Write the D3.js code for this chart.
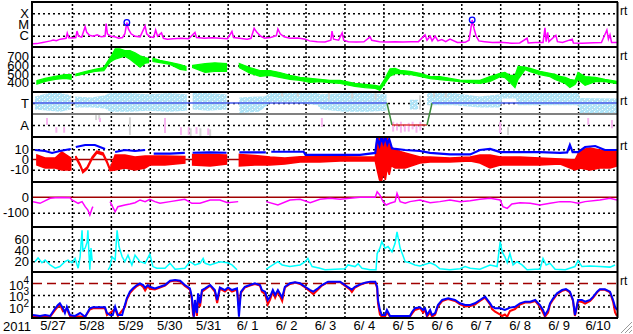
<!DOCTYPE html>
<html>
<head>
<meta charset="utf-8">
<script src="https://cdn.jsdelivr.net/npm/d3@7"></script>
<style>
  body { margin: 0; background: #fff; }
  svg { display: block; }
</style>
</head>
<body>
<div id="chart"></div>
<script>
// time is in days from 2011-05-27 00:00 UT

const dayLabels = ["5/27","5/28","5/29","5/30","5/31","6/ 1","6/ 2","6/ 3","6/ 4","6/ 5","6/ 6","6/ 7","6/ 8","6/ 9","6/10"];

// GOES X-ray flux (W/m2)
const xrayTicks = [1e-4, 1e-5, 1e-6];
const xrayTickLabels = ["X", "M", "C"];
const xray = [
  [0.00,1.9e-7],[0.10,2.0e-7],[0.25,2.5e-7],[0.36,3.0e-7],[0.45,3.5e-7],[0.52,4.2e-7],[0.60,3.6e-7],
  [0.70,5.0e-7],[0.85,6.0e-7],[0.88,1.75e-6],[0.92,6.5e-7],[1.00,6.3e-7],[1.10,7e-7],[1.13,2.6e-6],
  [1.17,9e-7],[1.25,7.5e-7],[1.34,6.4e-6],[1.38,2.0e-6],[1.45,1.1e-6],[1.55,9e-7],[1.65,1.2e-6],
  [1.75,8e-7],[1.85,9e-7],[1.88,1.2e-5],[1.91,1.5e-6],[2.00,9e-7],[2.10,8e-7],[2.20,6e-7],[2.30,7e-7],
  [2.36,1.5e-6],[2.41,1.5e-5],[2.45,4e-6],[2.52,1.5e-6],[2.62,9e-7],[2.75,8e-7],[2.88,7.4e-6],
  [2.92,1.5e-6],[3.00,8e-7],[3.10,7e-7],[3.15,3.2e-6],[3.20,9e-7],[3.30,1.8e-6],[3.35,6e-7],
  [3.45,5e-7],[3.60,5.5e-7],[3.80,6e-7],[4.00,5.5e-7],[4.16,2.0e-6],[4.20,7e-7],[4.40,6e-7],
  [4.60,6.5e-7],[4.80,6e-7],[5.00,5.5e-7],[5.11,2.4e-6],[5.15,7e-7],[5.30,6e-7],[5.50,5e-7],
  [5.60,6e-7],[5.68,4.6e-6],[5.75,2.0e-6],[5.85,9e-7],[5.95,6e-7],[6.10,7e-7],[6.25,1.0e-6],
  [6.29,4e-6],[6.35,1.5e-6],[6.45,8e-7],[6.60,6e-7],[6.80,6.3e-7],[7.00,5e-7],[7.10,3.5e-7],
  [7.30,3e-7],[7.50,2.8e-7],[7.65,4e-7],[7.68,2.6e-6],[7.72,5e-7],[7.85,4e-7],[7.94,1.8e-6],
  [7.98,4e-7],[8.10,3e-7],[8.30,2.8e-7],[8.50,2.9e-7],[8.66,8e-7],[8.70,4e-7],[8.90,3e-7],
  [9.10,2.8e-7],[9.30,3e-7],[9.50,2.8e-7],[9.70,3e-7],[9.90,3e-7],[10.07,1.2e-6],[10.12,4e-7],
  [10.20,9e-7],[10.25,3.5e-7],[10.33,9e-7],[10.40,3.5e-7],[10.50,4.5e-7],[10.60,3e-7],[10.71,5e-7],
  [10.90,2.5e-7],[11.10,2.6e-7],[11.20,4e-7],[11.28,2.5e-5],[11.33,4e-6],[11.38,1e-6],[11.45,3.5e-7],
  [11.60,3e-7],[11.80,2.5e-7],[12.00,2.6e-7],[12.30,2.2e-7],[12.50,2.3e-7],[12.69,6e-7],[12.72,2.3e-7],
  [12.90,2.5e-7],[13.10,2.5e-7],[13.15,5e-6],[13.18,3e-7],[13.22,2e-6],[13.25,3e-7],[13.43,1.1e-6],
  [13.47,3e-7],[13.60,2.5e-7],[13.85,5e-7],[13.88,2.3e-7],[14.10,2.2e-7],[14.40,2.4e-7],[14.60,2.5e-7],
  [14.74,3.2e-6],[14.78,5e-7],[14.82,1.2e-6],[14.86,2.5e-7],[15.00,2.5e-7]
];
const flares = [[2.41,1.5e-5],[11.28,2.5e-5]];

// solar wind speed (km/s): [t, low, high]
const speedTicks = [400, 500, 600, 700];
const speed = [
  [0.10,385,425],[0.31,415,450],[0.57,440,475],[0.82,450,495],[0.98,440,495],[1.04,null,null],
  [1.10,480,500],[1.34,505,530],[1.59,530,555],[1.82,540,575],[1.93,610,655],[2.00,645,700],
  [2.11,670,790],[2.23,690,790],[2.36,705,770],[2.49,670,770],[2.62,625,745],[2.75,580,710],
  [2.88,625,690],[2.97,630,680],[3.02,null,null],[3.08,645,680],[3.26,632,658],[3.52,610,635],
  [3.78,555,610],[3.93,545,588],[4.00,null,null],[4.10,575,600],[4.42,520,620],[4.67,530,630],
  [4.97,530,620],[5.10,null,null],[5.30,575,622],[5.57,510,575],[5.83,475,540],[6.09,485,540],
  [6.34,462,518],[6.60,440,485],[6.86,428,462],[7.12,405,450],[7.37,413,440],[7.63,402,428],
  [7.89,392,428],[8.27,358,395],[8.53,345,382],[8.79,335,370],[8.91,315,358],[9.04,392,450],
  [9.17,475,560],[9.30,505,565],[9.43,505,543],[9.68,495,532],[9.94,472,508],[10.20,448,475],
  [10.45,437,472],[10.71,425,452],[10.97,412,430],[11.23,403,428],[11.48,392,428],[11.74,415,472],
  [12.00,470,510],[12.12,460,520],[12.25,405,485],[12.38,345,485],[12.46,440,588],[12.64,550,580],
  [12.77,528,566],[13.02,494,532],[13.28,471,509],[13.41,438,496],[13.54,415,473],[13.67,392,462],
  [13.79,345,440],[13.92,380,428],[14.00,438,520],[14.18,370,472],[14.44,413,463],[14.69,413,440],
  [15.00,390,418]
];

// IMF sector: T = 1, A = -1
const sectorTicks = [1, -1];
const sectorTickLabels = ["T", "A"];
const sectorLine = [[0,1],[9.09,1],[9.22,-1],[10.12,-1],[10.25,1],[15,1]];
const sectorBlue = [
  [0.05,0.4,1.6],[0.40,0.3,1.9],[0.70,0.2,1.9],[0.97,0.4,1.7],[1.03,null,null],
  [1.08,0.6,1.6],[1.50,0.6,1.5],[1.85,0.5,1.7],[1.98,0.2,1.9],[2.50,0.2,1.9],[2.95,0.3,1.8],
  [3.50,0.2,1.9],[3.95,0.3,1.8],[4.02,null,null],[4.10,0.4,1.9],[4.50,0.3,1.9],[4.97,0.4,1.8],
  [5.10,null,null],[5.30,0.1,1.5],[5.80,0.2,1.6],[5.95,0.6,1.6],[6.10,1.1,1.9],[6.70,1.1,1.9],
  [7.30,0.8,1.9],[7.40,0.4,1.8],[8.00,0.2,1.9],[8.60,0.2,1.9],[9.08,0.3,1.8],[9.12,null,null],
  [9.68,0.4,1.3],[9.89,0.4,1.3],[9.95,null,null],[10.12,0.8,1.9],[10.80,0.8,1.9],[11.48,0.6,1.6],
  [12.00,0.6,1.8],[12.05,1.4,2.0],[12.40,1.4,2.0],[12.45,0.8,2.0],[14.00,0.8,2.0],[14.05,0.1,1.45],
  [15.00,0.1,1.4]
];
const sectorPink = [
  [0.36,-0.36,-1.0],[0.60,-1.2,-1.7],[0.80,-1.2,-1.7],[1.72,-0.36,-0.73],[3.39,-0.36,-1.73],
  [3.80,-1.2,-1.9],[4.00,-1.2,-1.9],[4.20,-1.2,-1.8],[4.50,-1.3,-1.9],[7.42,-0.36,-1.18],
  [9.25,-0.7,-1.6],[9.35,-0.8,-1.5],[9.45,-0.7,-1.7],[9.55,-0.9,-1.6],[9.65,-0.8,-1.6],
  [9.75,-0.7,-1.4],[9.85,-0.9,-1.7],[9.95,-0.7,-1.5],[12.00,-0.73,-1.73],[14.26,-0.36,-1.0],
  [14.87,-0.55,-1.3]
];
const sectorGray = [
  [1.62,-0.1,-0.55],[1.70,-0.1,-0.5],[2.49,-0.3,-1.9],[4.05,-1.3,-2.0],[4.30,-1.3,-2.0],
  [4.55,-1.4,-2.0],[6.40,1.6,2.0],[6.80,1.6,2.0],[7.60,1.3,2.0],[8.20,1.4,2.0],[8.80,1.3,2.0],
  [9.94,0.4,1.7],[10.30,1.5,2.0],[10.60,1.5,2.0],[12.20,-1.2,-1.9]
];

// IMF Bt (blue) and Bz range (red), nT
const bTicks = [10, 0, -10];
const bt = [
  [0.05,9.3],[0.31,8.3],[0.49,6.4],[0.69,8.3],[0.97,10.3],[1.03,null],[1.10,12.2],[1.34,14.2],
  [1.59,14.2],[1.85,10.3],[2.00,null],[2.11,7.3],[2.36,9.3],[2.62,8.3],[2.88,9.3],[3.00,null],
  [3.10,5.8],[3.52,5.8],[3.90,6.4],[3.98,null],[4.10,6.6],[4.55,7.0],[4.97,6.6],[5.10,null],
  [5.30,7.0],[5.70,7.0],[5.98,7.0],[6.05,null],[6.12,7.6],[6.60,7.6],[6.95,7.6],[7.00,4.6],
  [7.37,4.6],[7.89,4.6],[8.40,4.6],[8.79,6.4],[8.84,21],[8.90,14],[8.95,22],[9.00,16],[9.05,22],
  [9.10,15],[9.15,20],[9.22,11],[9.30,10.3],[9.56,9.3],[9.94,8.3],[10.20,6.4],[10.71,5.0],
  [11.23,5.0],[11.48,9.3],[11.74,10.3],[12.00,7.3],[12.51,7.3],[13.02,7.3],[13.54,6.4],[13.72,7.0],
  [13.79,14.2],[13.86,7.3],[14.00,7.3],[14.18,12.2],[14.44,13.2],[14.69,9.3],[15.00,9.3]
];
const bz = [
  [0.10,-5.4,4.4],[0.31,-8.3,1.5],[0.57,-8.3,1.5],[0.74,-10.3,7.3],[0.97,-10.3,1.5],[1.03,null,null],
  [1.10,1.5,3.4],[1.21,-6.4,-4.4],[1.28,-13,-11],[1.39,-9.3,-7.3],[1.52,0.5,2.5],[1.64,6.4,8.3],
  [1.80,4.4,6.4],[1.90,-3.4,-1.5],[1.98,-11,-9],[2.11,-10.3,4.4],[2.36,-8.3,4.4],[2.62,-10.3,2.4],
  [2.88,-8.3,3.4],[3.00,-5.4,3.4],[3.39,-5.4,3.4],[3.90,-3.4,3.0],[3.98,null,null],[4.10,-5.4,5.0],
  [4.55,-6.4,5.0],[4.97,-4.4,4.4],[5.10,null,null],[5.30,-6.4,5.0],[5.70,-5.4,4.0],[6.09,-5.4,2.4],
  [6.47,-4.4,1.5],[6.86,-2.4,2.8],[7.37,-2.4,2.8],[7.89,-1.5,2.8],[8.40,-1.5,2.4],[8.79,-1.5,2.4],
  [8.84,-10,22],[8.90,-20,22],[8.95,-22,18],[9.00,-12,22],[9.05,-20,20],[9.10,-8,22],[9.15,-15,15],
  [9.20,-6,12],[9.30,-8.3,9.3],[9.56,-8.3,6.4],[9.94,-3.4,2.4],[10.20,-2.4,2.4],[10.71,-2.4,1.5],
  [11.23,-1.5,2.4],[11.48,-3.4,4.4],[11.74,-8.3,4.4],[12.00,-5.4,2.4],[12.51,-5.4,2.4],
  [13.02,-5.4,1.5],[13.54,-4.4,0.5],[13.92,-10.3,-0.5],[14.05,-8.3,9.3],[14.31,-10.3,11.2],
  [14.56,-8.3,9.3],[14.82,-8.3,9.3],[15.00,-6.4,7.3]
];

// Dst (nT)
const dstTicks = [0, -100];
const dst = [
  [0.00,-28],[0.18,-39],[0.44,-6],[0.57,-2],[0.74,-1],[0.95,-3],[1.00,-17],[1.16,-39],[1.26,-28],
  [1.34,-61],[1.41,-83],[1.46,-115],[1.52,-70],[1.54,-61],[1.60,null],[1.98,-28],[2.11,-94],
  [2.18,-61],[2.36,-50],[2.49,-43],[2.62,-35],[2.75,-17],[2.88,-28],[3.00,-13],[3.13,-28],
  [3.26,-39],[3.52,-28],[3.78,-17],[3.90,-13],[4.08,-39],[4.29,-39],[4.55,-17],[4.80,-17],
  [5.00,-35],[5.27,-28],[5.35,null],[5.99,-28],[6.29,-50],[6.60,-17],[6.86,-13],[7.12,-35],
  [7.37,-13],[7.63,-6],[7.89,-13],[8.14,-6],[8.40,0],[8.79,0],[8.84,37],[8.91,15],[8.99,-28],
  [9.07,-50],[9.17,-39],[9.30,-28],[9.35,26],[9.43,-28],[9.56,-39],[9.68,-28],[9.94,-17],
  [10.20,-35],[10.45,-28],[10.71,-17],[10.97,-28],[11.23,-22],[11.48,-13],[11.74,-6],[12.00,-17],
  [12.07,-61],[12.18,-72],[12.30,-43],[12.51,-35],[12.77,-39],[13.02,-50],[13.28,-39],[13.54,-28],
  [13.79,-28],[14.00,-39],[14.18,-28],[14.56,-17],[14.82,-6],[15.00,-17]
];

// solar wind density (/cc)
const densTicks = [20, 40, 60];
const density = [
  [0.05,19],[0.13,26],[0.23,17],[0.31,22],[0.44,13],[0.57,7],[0.69,10],[0.82,19],[0.90,22],
  [1.00,17],[1.08,25],[1.16,7],[1.21,28],[1.26,77],[1.28,40],[1.34,44],[1.39,55],[1.41,77],
  [1.44,30],[1.46,4],[1.49,44],[1.52,20],[1.58,null],[1.93,4],[1.98,10],[2.03,28],[2.11,22],
  [2.16,77],[2.21,47],[2.29,28],[2.36,19],[2.44,31],[2.54,13],[2.62,31],[2.75,19],[2.88,16],
  [3.00,33],[3.08,10],[3.18,7],[3.39,7],[3.52,16],[3.65,5],[3.90,7],[4.03,19],[4.16,13],
  [4.29,16],[4.37,25],[4.42,16],[4.55,13],[4.80,19],[5.00,17],[5.11,13],[5.24,4],[5.50,null],
  [5.99,5],[6.09,10],[6.29,19],[6.40,13],[6.60,10],[6.86,13],[6.99,19],[7.06,25],[7.17,10],
  [7.37,7],[7.50,4],[7.76,5],[8.01,6],[8.09,13],[8.27,10],[8.35,15],[8.45,7],[8.66,4],[8.81,4],
  [8.84,34],[8.91,44],[8.96,56],[9.04,44],[9.12,47],[9.22,37],[9.30,53],[9.35,74],[9.43,44],
  [9.50,31],[9.56,19],[9.68,17],[9.81,13],[9.94,11],[10.20,17],[10.33,13],[10.45,6],[10.71,4],
  [10.97,6],[11.10,10],[11.23,7],[11.48,5],[11.74,13],[11.92,10],[12.00,56],[12.05,37],[12.12,28],
  [12.18,17],[12.25,34],[12.33,13],[12.43,19],[12.56,13],[12.69,4],[12.90,5],[13.02,5],[13.10,25],
  [13.18,13],[13.28,16],[13.41,5],[13.67,4],[13.92,10],[14.00,21],[14.10,10],[14.31,11],
  [14.56,10],[14.82,9],[14.95,13]
];

// GEO electron flux (two satellites)
const elecTicks = [1e4, 1e3, 1e2];
const elecBlue = [
  [0.00,18],[0.18,15],[0.31,18],[0.44,15],[0.57,70],[0.64,135],[0.69,190],[0.77,70],[0.82,27],
  [0.87,95],[0.95,18],[1.08,15],[1.21,27],[1.34,13],[1.46,70],[1.54,85],[1.72,85],[1.85,85],
  [1.90,27],[1.98,18],[2.05,18],[2.11,95],[2.18,18],[2.29,18],[2.36,135],[2.41,515],[2.49,1950],
  [2.57,3800],[2.67,7400],[2.75,10400],[2.83,7400],[2.88,4300],[2.95,7400],[3.00,5200],[3.13,3800],
  [3.26,5200],[3.39,7400],[3.52,17500],[3.65,20000],[3.78,17500],[3.90,7400],[4.03,3800],[4.08,710],
  [4.11,50],[4.13,13],[4.16,370],[4.21,27],[4.24,1400],[4.29,190],[4.34,2700],[4.42,3800],[4.55,7400],
  [4.67,2700],[4.73,370],[4.80,4500],[4.93,2700],[5.01,4500],[5.11,2700],[5.24,3800],[5.29,13],
  [5.34,1900],[5.44,5200],[5.57,7400],[5.70,10400],[5.83,7400],[5.88,2700],[5.96,1950],[6.03,370],
  [6.09,710],[6.16,2700],[6.22,1000],[6.29,2700],[6.40,600],[6.47,5200],[6.60,10400],[6.73,13000],
  [6.86,10400],[6.99,5200],[7.12,2700],[7.20,1950],[7.32,3800],[7.42,7400],[7.58,14500],[7.76,14500],
  [7.89,14500],[8.01,7400],[8.14,3800],[8.19,3000],[8.27,5200],[8.40,8500],[8.53,11800],[8.66,14500],
  [8.79,14500],[8.84,5200],[8.86,370],[8.91,50],[8.96,18],[9.04,18],[9.09,50],[9.17,15],[9.43,15],
  [9.68,15],[9.74,35],[9.81,70],[9.94,85],[10.02,50],[10.07,70],[10.12,18],[10.20,50],[10.25,18],
  [10.33,27],[10.40,135],[10.51,370],[10.66,515],[10.84,370],[10.97,190],[11.10,135],[11.23,135],
  [11.35,190],[11.48,370],[11.61,710],[11.74,190],[11.79,100],[11.87,70],[12.00,70],[12.12,50],
  [12.25,80],[12.38,95],[12.51,190],[12.64,265],[12.77,265],[12.90,370],[13.02,135],[13.10,50],
  [13.15,18],[13.23,50],[13.28,190],[13.36,515],[13.46,1400],[13.59,2700],[13.69,3300],[13.79,2000],
  [13.87,370],[13.92,18],[14.00,370],[14.10,370],[14.18,265],[14.31,370],[14.39,710],[14.49,1950],
  [14.56,3150],[14.69,3150],[14.82,1950],[14.90,370],[14.95,95],[15.00,50]
];
const elecRed = [
  [0.00,15],[0.44,13],[0.57,50],[0.69,150],[0.77,40],[0.87,60],[0.95,15],[1.34,13],[1.46,55],
  [1.54,70],[1.85,70],[1.90,18],[2.11,60],[2.18,15],[2.36,90],[2.41,400],[2.49,1500],[2.57,3000],
  [2.67,6000],[2.75,8500],[2.83,5000],[2.88,2500],[2.95,6000],[3.00,3500],[3.13,3000],[3.26,4500],
  [3.39,6500],[3.52,15000],[3.65,18000],[3.78,15000],[3.90,6000],[4.03,3000],[4.08,400],[4.11,20],
  [4.13,13],[4.16,200],[4.21,15],[4.24,800],[4.29,100],[4.34,2000],[4.42,3000],[4.55,6500],
  [4.67,2000],[4.73,200],[4.80,3500],[4.93,2000],[5.01,3500],[5.11,2000],[5.24,3000],[5.29,100],
  [5.34,1500],[5.44,4500],[5.57,6500],[5.70,9000],[5.83,6500],[5.88,2000],[5.96,1200],[6.03,150],
  [6.09,400],[6.16,2000],[6.22,600],[6.29,2000],[6.40,300],[6.47,4500],[6.60,9000],[6.73,12000],
  [6.86,9000],[6.99,4500],[7.12,2000],[7.20,1200],[7.32,3000],[7.42,6500],[7.58,13000],[7.89,13000],
  [8.01,6500],[8.14,3000],[8.19,1800],[8.27,4500],[8.40,7500],[8.53,11000],[8.66,13000],[8.79,13000],
  [8.84,4000],[8.86,200],[8.91,20],[8.96,13],[9.04,13],[9.09,30],[9.17,13],[9.68,13],[9.74,25],
  [9.81,50],[9.94,70],[10.02,30],[10.07,50],[10.12,13],[10.20,30],[10.25,13],[10.33,20],[10.40,100],
  [10.51,300],[10.66,450],[10.84,300],[10.97,150],[11.10,100],[11.23,110],[11.35,150],[11.48,300],
  [11.61,600],[11.74,150],[11.79,60],[11.87,35],[12.00,20],[12.05,15],[12.12,20],[12.18,13],
  [12.25,40],[12.38,60],[12.51,150],[12.64,220],[12.77,220],[12.90,300],[13.02,100],[13.10,30],
  [13.15,13],[13.23,30],[13.28,150],[13.36,400],[13.46,1200],[13.59,2300],[13.69,2800],[13.79,1700],
  [13.87,300],[13.92,15],[14.00,300],[14.10,250],[14.18,180],[14.31,300],[14.39,600],[14.49,1700],
  [14.56,2800],[14.69,2800],[14.82,1700],[14.90,250],[14.95,30],[15.00,15]
];

const rtPanels = [0, 1, 2, 3, 6];

// ---- layout
const W = 633, H = 334;
const L = 33, R = 617;
const bounds = [2, 47, 92, 137, 182, 227, 272, 318];
const FONT = "'Liberation Sans', Arial, Helvetica, sans-serif";
const FS = 13;

const svg = d3.select("#chart").append("svg")
  .attr("width", W).attr("height", H)
  .style("background", "#fff");

const x = d3.scaleLinear().domain([0, 15]).range([L, R]);

const yX = d3.scaleLog().domain([1e-7, 1e-3]).range([47, 2]);
const yV = d3.scaleLinear().domain([300, 800]).range([91.5, 48]);
const yS = d3.scaleLinear().domain([-2.09, 2]).range([137, 92]);
const yB = d3.scaleLinear().domain([-22, 22]).range([182, 137]);
const yD = d3.scaleLinear().domain([-200, 100]).range([228, 182]);
const yN = d3.scaleLinear().domain([0, 83]).range([272, 227]);
const yE = d3.scaleLog().domain([10, 1e5]).range([318, 272]);

// clip paths, one per panel
const defs = svg.append("defs");
for (let i = 0; i < 7; i++) {
  defs.append("clipPath").attr("id", "clip" + i)
    .append("rect")
    .attr("x", L).attr("y", bounds[i])
    .attr("width", R - L).attr("height", bounds[i + 1] - bounds[i]);
}
const layer = i => svg.append("g").attr("clip-path", `url(#clip${i})`);

// speckled fill for the scattered sector samples
const speck = defs.append("pattern").attr("id", "speck")
  .attr("patternUnits", "userSpaceOnUse").attr("width", 5).attr("height", 4);
speck.append("rect").attr("width", 5).attr("height", 4).attr("fill", "#aee4f8");
speck.append("rect").attr("x", 2).attr("y", 1).attr("width", 1).attr("height", 1).attr("fill", "#ffffff");
speck.append("rect").attr("x", 4).attr("y", 3).attr("width", 1).attr("height", 1).attr("fill", "#ffffff");
speck.append("rect").attr("x", 0).attr("y", 2).attr("width", 1).attr("height", 1).attr("fill", "#d8eef6");
speck.append("rect").attr("x", 3).attr("y", 0).attr("width", 1).attr("height", 1).attr("fill", "#d0d0d0");

// horizontal dotted grid
function hgrid(scale, vals) {
  svg.append("g")
    .attr("transform", `translate(${L},0)`)
    .call(d3.axisLeft(scale).tickValues(vals).tickSize(-(R - L)).tickFormat(""))
    .call(g => g.select(".domain").remove())
    .selectAll("line")
    .attr("stroke", "#000").attr("stroke-width", 1.5).attr("stroke-dasharray", "2,3");
}

// left tick labels
function labels(scale, vals, fmt) {
  return svg.append("g")
    .attr("transform", "translate(29,0)")
    .call(d3.axisLeft(scale).tickValues(vals).tickFormat(fmt).tickSize(0).tickPadding(0))
    .call(g => g.select(".domain").remove())
    .attr("font-family", FONT).attr("font-size", FS)
    .call(g => g.selectAll("text").attr("fill", "#000"));
}

// vertical day grid
svg.append("g")
  .attr("transform", `translate(0,${bounds[7]})`)
  .call(d3.axisBottom(x).tickValues(d3.range(1, 15)).tickSize(-(bounds[7] - bounds[0])).tickFormat(""))
  .call(g => g.select(".domain").remove())
  .selectAll("line")
  .attr("stroke", "#000").attr("stroke-width", 1.5).attr("stroke-dasharray", "2,2");

// day labels
svg.append("g")
  .attr("transform", `translate(0,${bounds[7]})`)
  .call(d3.axisBottom(x).tickValues(d3.range(0.5, 15, 1)).tickFormat((d, i) => dayLabels[i]).tickSize(0).tickPadding(3))
  .call(g => g.select(".domain").remove())
  .attr("font-family", FONT).attr("font-size", FS)
  .call(g => g.selectAll("text").attr("fill", "#000").style("white-space", "pre"));

svg.append("text").attr("x", 3).attr("y", 331)
  .attr("font-family", FONT).attr("font-size", FS).text("2011");

// ---- panel 1 : X-ray
hgrid(yX, xrayTicks);
labels(yX, xrayTicks, (d, i) => xrayTickLabels[i]);
layer(0).append("path")
  .datum(xray)
  .attr("fill", "none").attr("stroke", "#ff00ff").attr("stroke-width", 1.5)
  .attr("d", d3.line().x(d => x(d[0])).y(d => yX(d[1])));
svg.append("g").selectAll("circle").data(flares).join("circle")
  .attr("cx", d => x(d[0])).attr("cy", d => yX(d[1])).attr("r", 2.8)
  .attr("fill", "none").attr("stroke", "#0000ff").attr("stroke-width", 1.3);

// ---- panel 2 : speed
hgrid(yV, speedTicks);
labels(yV, speedTicks, d => d);
layer(1).append("path")
  .datum(speed)
  .attr("fill", "#00ff00").attr("stroke", "#00ff00").attr("stroke-width", 1.2)
  .attr("d", d3.area().defined(d => d[1] != null)
    .x(d => x(d[0])).y0(d => yV(d[1])).y1(d => yV(d[2])));

// ---- panel 3 : sector
hgrid(yS, sectorTicks);
labels(yS, sectorTicks, (d, i) => sectorTickLabels[i]);
const g3 = layer(2);
g3.append("path")
  .datum(sectorBlue)
  .attr("fill", "url(#speck)").attr("stroke", "none")
  .attr("d", d3.area().defined(d => d[1] != null)
    .x(d => x(d[0])).y0(d => yS(d[1])).y1(d => yS(d[2])));
g3.selectAll("line.gray").data(sectorGray).join("line").attr("class", "gray")
  .attr("x1", d => x(d[0])).attr("x2", d => x(d[0]))
  .attr("y1", d => yS(d[1])).attr("y2", d => yS(d[2]))
  .attr("stroke", "#d4d4d4").attr("stroke-width", 2);
g3.selectAll("line.pink").data(sectorPink).join("line").attr("class", "pink")
  .attr("x1", d => x(d[0])).attr("x2", d => x(d[0]))
  .attr("y1", d => yS(d[1])).attr("y2", d => yS(d[2]))
  .attr("stroke", "#f8b4f0").attr("stroke-width", 2);
g3.append("line")
  .attr("x1", L).attr("x2", R).attr("y1", yS(0)).attr("y2", yS(0))
  .attr("stroke", "#808080").attr("stroke-width", 2);
g3.selectAll("line.sec").data(d3.pairs(sectorLine)).join("line").attr("class", "sec")
  .attr("x1", d => x(d[0][0])).attr("x2", d => x(d[1][0]))
  .attr("y1", d => yS(d[0][1])).attr("y2", d => yS(d[1][1]))
  .attr("stroke", d => d[0][1] !== d[1][1] ? "#3c8c3c" : (d[0][1] > 0 ? "#4658e8" : "#e03c3c"))
  .attr("stroke-width", 1.5);

// ---- panel 4 : Bt / Bz
hgrid(yB, [10, -10]);
labels(yB, bTicks, d => d);
const g4 = layer(3);
g4.append("line")
  .attr("x1", L).attr("x2", R).attr("y1", yB(0)).attr("y2", yB(0))
  .attr("stroke", "#a00000").attr("stroke-width", 1.5);
g4.append("path")
  .datum(bz)
  .attr("fill", "#ff0000").attr("stroke", "#ff0000").attr("stroke-width", 1.5)
  .attr("d", d3.area().defined(d => d[1] != null)
    .x(d => x(d[0])).y0(d => yB(d[1])).y1(d => yB(d[2])));
g4.append("path")
  .datum(bt)
  .attr("fill", "none").attr("stroke", "#0000ff").attr("stroke-width", 2.2)
  .attr("d", d3.line().defined(d => d[1] != null).x(d => x(d[0])).y(d => yB(d[1])));

// ---- panel 5 : Dst
hgrid(yD, [-100]);
labels(yD, dstTicks, d => d);
const g5 = layer(4);
g5.append("line")
  .attr("x1", L).attr("x2", R).attr("y1", yD(0)).attr("y2", yD(0))
  .attr("stroke", "#a00000").attr("stroke-width", 1.5);
g5.append("path")
  .datum(dst)
  .attr("fill", "none").attr("stroke", "#ff00ff").attr("stroke-width", 1.5)
  .attr("d", d3.line().defined(d => d[1] != null).x(d => x(d[0])).y(d => yD(d[1])));

// ---- panel 6 : density
hgrid(yN, densTicks);
labels(yN, densTicks, d => d);
layer(5).append("path")
  .datum(density)
  .attr("fill", "none").attr("stroke", "#00ffff").attr("stroke-width", 1.5)
  .attr("d", d3.line().defined(d => d[1] != null).x(d => x(d[0])).y(d => yN(d[1])));

// ---- panel 7 : electrons
hgrid(yE, [1e3, 1e2]);
// powers of ten, written as 10 with a raised exponent
svg.append("g")
  .attr("font-family", FONT).attr("font-size", FS)
  .selectAll("text").data(elecTicks).join("text")
  .attr("x", 29).attr("y", d => yE(d) + 6)
  .attr("text-anchor", "end")
  .each(function (d) {
    const t = d3.select(this);
    t.append("tspan").text("10");
    t.append("tspan").attr("dy", -6).attr("font-size", 10).text(Math.round(Math.log10(d)));
  });
const g7 = layer(6);
g7.append("line")
  .attr("x1", L).attr("x2", R).attr("y1", yE(1e4)).attr("y2", yE(1e4))
  .attr("stroke", "#a00000").attr("stroke-width", 1.5).attr("stroke-dasharray", "9,5");
const eLine = d3.line().x(d => x(d[0])).y(d => yE(d[1]));
g7.append("path").datum(elecRed)
  .attr("fill", "none").attr("stroke", "#ff0000").attr("stroke-width", 2).attr("d", eLine);
g7.append("path").datum(elecBlue)
  .attr("fill", "none").attr("stroke", "#0000ff").attr("stroke-width", 2).attr("d", eLine);

// ---- frame
svg.append("g").selectAll("line").data(bounds).join("line")
  .attr("x1", L - 2).attr("x2", R + 1).attr("y1", d => d).attr("y2", d => d)
  .attr("stroke", "#000").attr("stroke-width", 2);
svg.append("line").attr("x1", L - 1).attr("x2", L - 1).attr("y1", bounds[0]).attr("y2", bounds[7])
  .attr("stroke", "#000").attr("stroke-width", 2);
svg.append("line").attr("x1", R + 0.5).attr("x2", R + 0.5).attr("y1", bounds[0]).attr("y2", bounds[7])
  .attr("stroke", "#000").attr("stroke-width", 2);

// "rt" marks on the right
svg.append("g").selectAll("text").data(rtPanels).join("text")
  .attr("x", 620).attr("y", d => bounds[d] + 12.5)
  .attr("font-family", FONT).attr("font-size", 12)
  .text("rt");

// window grip, bottom right
svg.append("g").selectAll("line").data([0, 4, 8]).join("line")
  .attr("x1", d => 621 + d).attr("y1", 333).attr("x2", 632).attr("y2", d => 322 + d)
  .attr("stroke", "#999").attr("stroke-width", 1);
</script>
</body>
</html>
